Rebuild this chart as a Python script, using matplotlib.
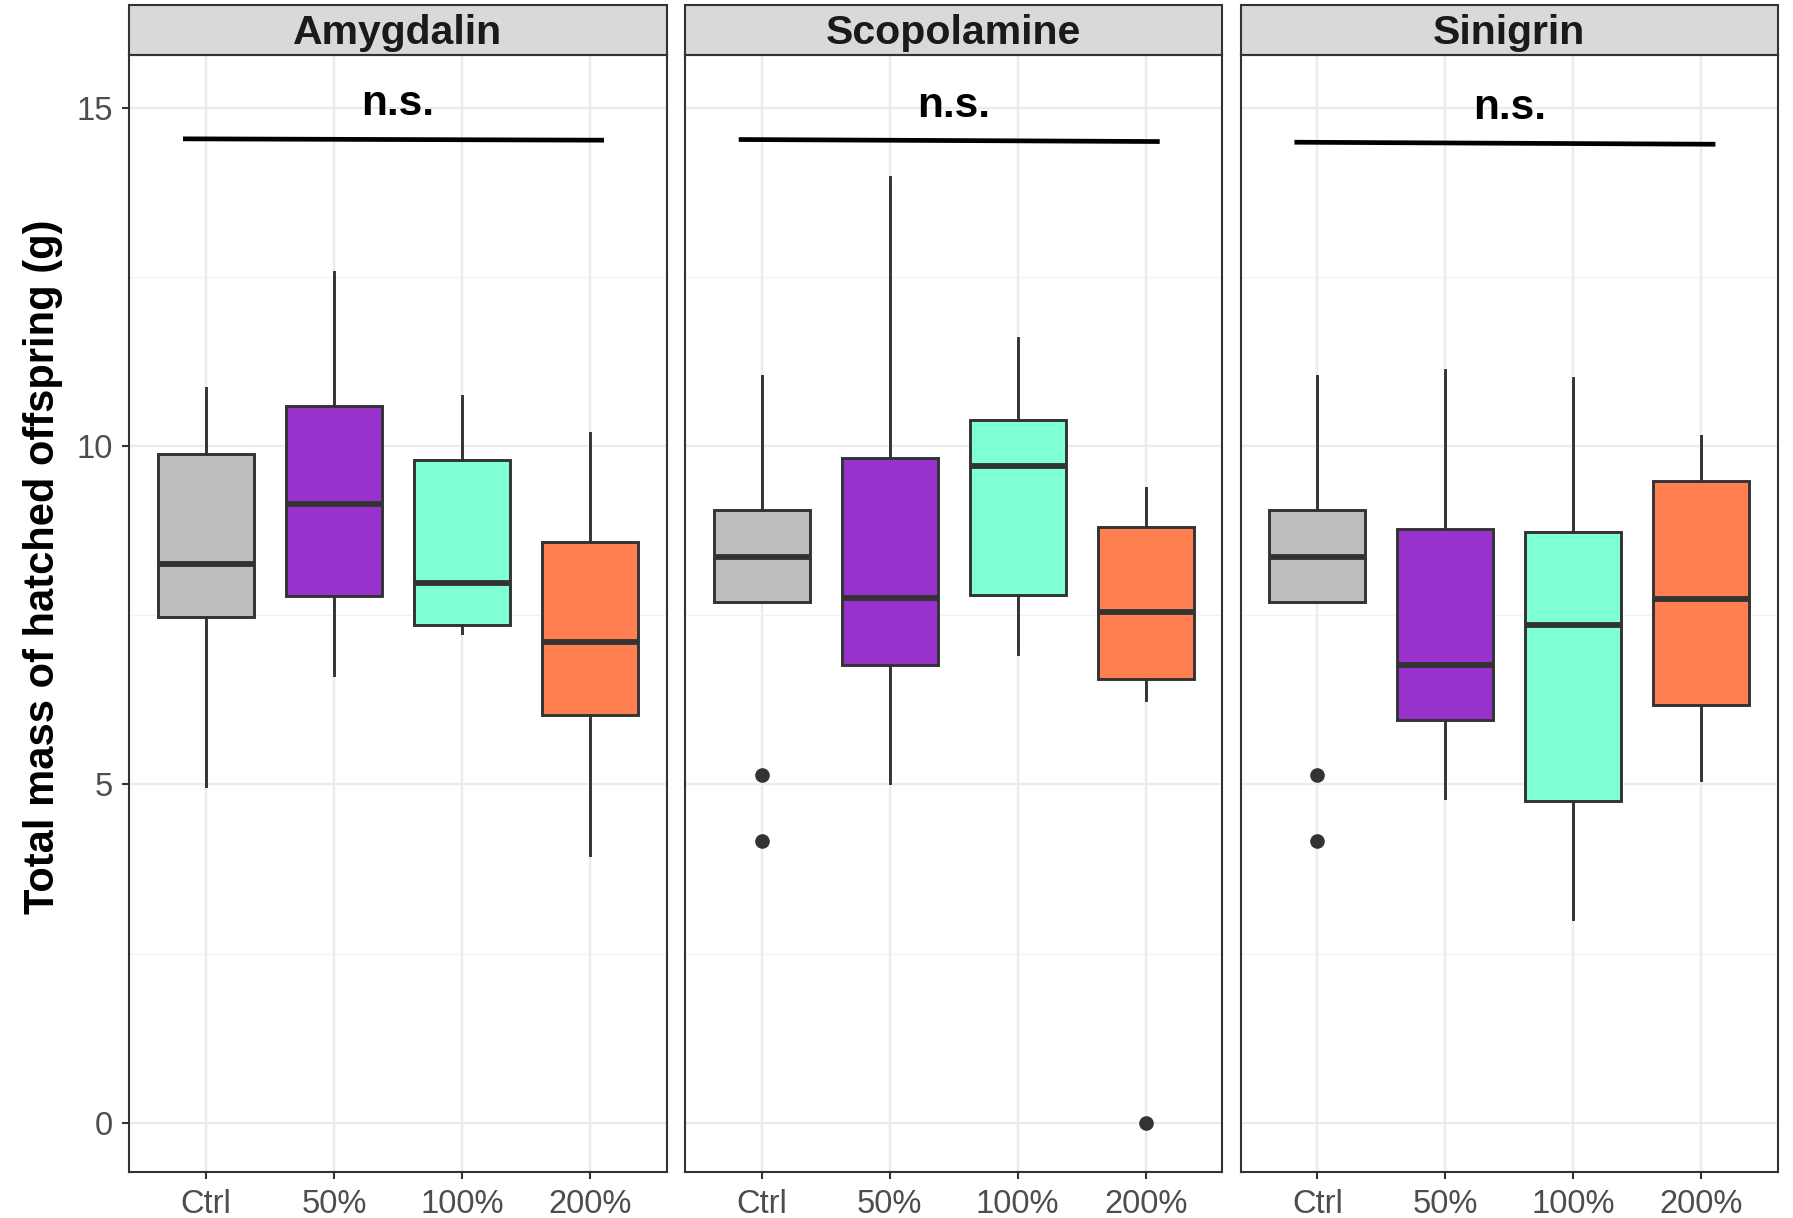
"""Boxplots of total mass of hatched offspring per compound and dose."""

import matplotlib
matplotlib.use("Agg")
import matplotlib.pyplot as plt
from matplotlib.patches import Rectangle

plt.rcParams["font.family"] = ["Liberation Sans", "DejaVu Sans"]

groups = ["Ctrl", "50%", "100%", "200%"]
compounds = ["Amygdalin", "Scopolamine", "Sinigrin"]
fills = ["#BEBEBE", "#9932CC", "#7FFFD4", "#FF7F50"]

# box statistics per compound, one value per group
amy_q1 = [7.47, 7.79, 7.36, 6.03]
amy_med = [8.26, 9.14, 7.97, 7.11]
amy_q3 = [9.88, 10.59, 9.80, 8.58]
amy_lo = [4.98, 6.62, 7.23, 3.95]
amy_hi = [10.86, 12.57, 10.74, 10.20]
amy_out = [[], [], [], []]

sco_q1 = [7.70, 6.77, 7.80, 6.55]
sco_med = [8.36, 7.75, 9.71, 7.55]
sco_q3 = [9.05, 9.83, 10.39, 8.80]
sco_lo = [7.70, 5.02, 6.93, 6.25]
sco_hi = [11.03, 13.97, 11.60, 9.38]
sco_out = [[5.14, 4.16], [], [], [0.0]]

sin_q1 = [7.70, 5.95, 4.76, 6.18]
sin_med = [8.36, 6.76, 7.36, 7.74]
sin_q3 = [9.05, 8.77, 8.73, 9.49]
sin_lo = [7.70, 4.80, 3.01, 5.07]
sin_hi = [11.03, 11.13, 11.00, 10.15]
sin_out = [[5.14, 4.16], [], [], []]

# significance bar: x from/to, y at start/end, label position
sig_x = [0.82, 4.11]
sig_y = [[14.54, 14.52], [14.53, 14.50], [14.49, 14.46]]
sig_label_x = 2.5
sig_label_y = [15.05, 15.03, 14.99]

panels = [
    (amy_q1, amy_med, amy_q3, amy_lo, amy_hi, amy_out),
    (sco_q1, sco_med, sco_q3, sco_lo, sco_hi, sco_out),
    (sin_q1, sin_med, sin_q3, sin_lo, sin_hi, sin_out),
]

dark = "#333333"
fig, axes = plt.subplots(1, 3, figsize=(17.93, 12.18), dpi=100, sharey=True)
fig.subplots_adjust(left=0.0721, right=0.9917, bottom=0.0377, top=0.9549,
                    wspace=0.034)

positions = list(range(1, len(groups) + 1))
for i, (ax, name, data) in enumerate(zip(axes, compounds, panels)):
    q1, med, q3, lo, hi, out = data
    stats = [
        {"med": med[k], "q1": q1[k], "q3": q3[k], "whislo": lo[k],
         "whishi": hi[k], "fliers": out[k]}
        for k in range(len(groups))
    ]
    bp = ax.bxp(stats, positions=positions, widths=0.75, patch_artist=True,
                showcaps=False,
                boxprops=dict(edgecolor=dark, linewidth=2.1),
                medianprops=dict(color=dark, linewidth=4.2,
                                 solid_capstyle="butt"),
                whiskerprops=dict(color=dark, linewidth=2.1),
                flierprops=dict(marker="o", markerfacecolor=dark,
                                markeredgecolor=dark, markersize=9.5))
    for patch, c in zip(bp["boxes"], fills):
        patch.set_facecolor(c)
        patch.set_zorder(3)
    for ln in bp["medians"] + bp["whiskers"] + bp["fliers"]:
        ln.set_zorder(4)

    # significance annotation
    ax.plot(sig_x, sig_y[i], color="black", linewidth=3.4,
            solid_capstyle="butt", zorder=5)
    ax.text(sig_label_x, sig_label_y[i], "n.s.", ha="center",
            va="center", fontsize=30.5, fontweight="bold", color="black")

    ax.set_xlim(0.4, 4.6)
    ax.set_ylim(-0.73, 15.78)
    ax.set_xticks(positions)
    ax.set_xticklabels(groups)
    ax.set_yticks([0, 5, 10, 15])
    ax.set_yticks([2.5, 7.5, 12.5], minor=True)
    ax.grid(which="major", color="#EBEBEB", linewidth=1.6, zorder=0)
    ax.grid(which="minor", axis="y", color="#F2F2F2", linewidth=0.9, zorder=0)
    ax.set_axisbelow(True)
    ax.tick_params(axis="both", which="major", length=5, width=1.5,
                   color=dark, labelsize=23.5, labelcolor="#4D4D4D", pad=7)
    ax.tick_params(axis="y", which="minor", length=0)
    if i > 0:
        ax.tick_params(axis="y", which="major", length=0, labelleft=False)
    for sp in ax.spines.values():
        sp.set_color(dark)
        sp.set_linewidth(1.5)

    # facet strip
    strip_h = 0.045
    ax.add_patch(Rectangle((0, 1), 1, strip_h, transform=ax.transAxes,
                           facecolor="#D9D9D9", edgecolor=dark, linewidth=1.5,
                           clip_on=False))
    ax.text(0.5, 1 + strip_h / 2 - 0.003, name, transform=ax.transAxes,
            ha="center", va="center", fontsize=29.5, fontweight="bold",
            color="#1A1A1A")

fig.text(0.024, 0.535, "Total mass of hatched offspring (g)", rotation=90,
         ha="center", va="center", fontsize=30, fontweight="bold")

fig.savefig("out.png", dpi=100)
plt.close(fig)
